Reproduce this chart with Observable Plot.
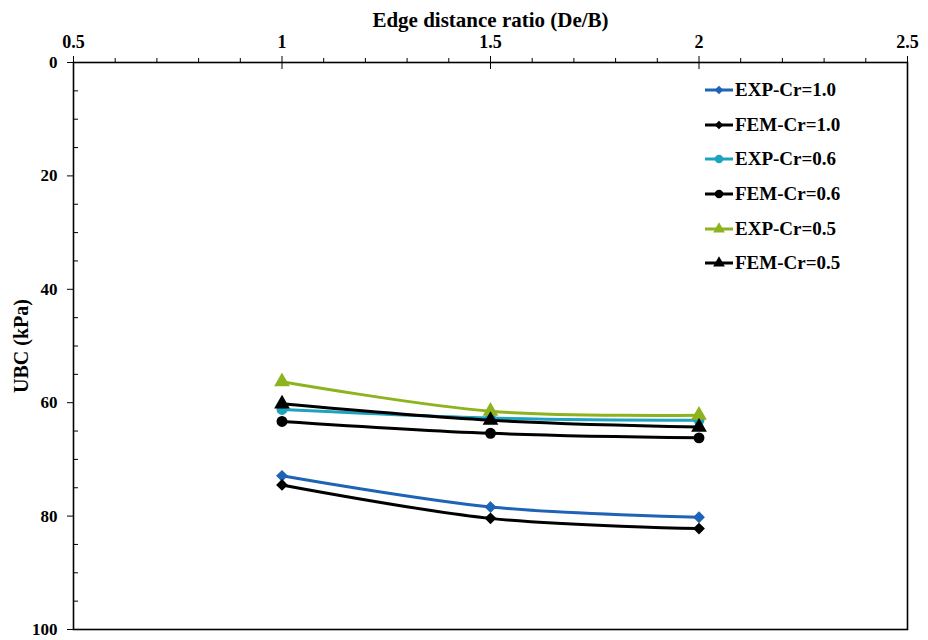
<!DOCTYPE html>
<html>
<head>
<meta charset="utf-8">
<script src="https://cdn.jsdelivr.net/npm/d3@7"></script>
<script src="https://cdn.jsdelivr.net/npm/@observablehq/plot@0.6"></script>
<style>
  html, body { margin: 0; padding: 0; background: #fff; }
  #wrap { position: relative; width: 928px; height: 640px; }
  #legend { position: absolute; left: 704px; top: 73px; font-family: "Liberation Serif", "Times New Roman", serif; font-weight: bold; font-size: 19px; color: #000; }
  .row { display: flex; align-items: center; height: 34.6px; }
  .row svg { margin-right: 1px; }
</style>
</head>
<body>
<div id="wrap"><div id="legend"></div></div>
<script>
// Data
const edgeRatio = [1, 1.5, 2];
const seriesNames = ["EXP-Cr=1.0", "FEM-Cr=1.0", "EXP-Cr=0.6", "FEM-Cr=0.6", "EXP-Cr=0.5", "FEM-Cr=0.5"];
const expCr10 = [72.9, 78.4, 80.2];
const femCr10 = [74.5, 80.4, 82.2];
const expCr06 = [61.2, 62.7, 63.1];
const femCr06 = [63.3, 65.4, 66.2];
const expCr05 = [56.3, 61.5, 62.2];
const femCr05 = [60.2, 63.1, 64.3];
const xTicks = [0.5, 1, 1.5, 2, 2.5];
const yTicks = [0, 20, 40, 60, 80, 100];

// styles
const colors = ["#1f63b6", "#000000", "#1ba3bf", "#000000", "#8db31e", "#000000"];
const symbols = ["diamond2", "diamond2", "circle", "circle", "triangle", "triangle"];
const symSize = [60, 60, 70, 70, 75, 75];
const allValues = [expCr10, femCr10, expCr06, femCr06, expCr05, femCr05];

const rows = [];
seriesNames.forEach((name, i) => {
  edgeRatio.forEach((x, j) => rows.push({series: name, idx: i, x, y: allValues[i][j]}));
});

const minorX = d3.range(5, 26).map(d => d / 10).filter(d => !xTicks.includes(d));
const minorY = d3.range(0, 101, 5).filter(d => !yTicks.includes(d));

const marks = [
  Plot.frame({stroke: "#000", strokeWidth: 1.6}),
  Plot.axisX(xTicks, {anchor: "top", label: null, tickSize: 7, tickPadding: 8, tickFormat: d => String(d), fontSize: 18, fontWeight: "bold"}),
  Plot.axisX(xTicks, {anchor: "top", label: null, tickSize: -6, tickFormat: () => ""}),
  Plot.axisX(minorX, {anchor: "top", label: null, tickSize: 5, tickFormat: () => ""}),
  Plot.axisY(yTicks, {anchor: "left", label: null, tickSize: 6, tickPadding: 10, fontSize: 17, fontWeight: "bold"}),
  Plot.axisY(minorY, {anchor: "left", label: null, tickSize: -5, tickFormat: () => ""}),
  Plot.text(["Edge distance ratio (De/B)"], {frameAnchor: "top", dy: -42, lineAnchor: "middle", textAnchor: "middle", fontSize: 21, fontWeight: "bold", fill: "#000"}),
  Plot.text(["UBC (kPa)"], {frameAnchor: "left", dx: -52, rotate: -90, textAnchor: "middle", lineAnchor: "middle", fontSize: 20, fontWeight: "bold", fill: "#000"})
];
seriesNames.forEach((name, i) => {
  const d = rows.filter(r => r.idx === i);
  marks.push(Plot.line(d, {x: "x", y: "y", stroke: colors[i], strokeWidth: 3, curve: "catmull-rom"}));
  marks.push(Plot.dot(d, {x: "x", y: "y", fill: colors[i], stroke: colors[i], symbol: symbols[i], r: Math.sqrt(symSize[i] / Math.PI)}));
});

const chart = Plot.plot({
  width: 928,
  height: 640,
  marginLeft: 73,
  marginRight: 21,
  marginTop: 62,
  marginBottom: 11,
  style: {fontFamily: "Liberation Serif, Times New Roman, serif", fontWeight: "bold", fontSize: "18px", color: "#000", background: "#fff"},
  x: {domain: [0.5, 2.5], axis: null},
  y: {domain: [0, 100], reverse: true, axis: null},
  marks
});
document.getElementById("wrap").prepend(chart);

// Legend
const legend = document.getElementById("legend");
seriesNames.forEach((name, i) => {
  const row = document.createElement("div");
  row.className = "row";
  const sw = d3.create("svg").attr("width", 30).attr("height", 14);
  sw.append("line").attr("x1", 1).attr("x2", 29).attr("y1", 7).attr("y2", 7).attr("stroke", colors[i]).attr("stroke-width", 3);
  const symMap = {diamond2: d3.symbolDiamond2, circle: d3.symbolCircle, triangle: d3.symbolTriangle};
  sw.append("path").attr("transform", "translate(15,7)").attr("d", d3.symbol(symMap[symbols[i]], symSize[i] * 0.8)()).attr("fill", colors[i]);
  row.appendChild(sw.node());
  const t = document.createElement("span");
  t.textContent = name;
  row.appendChild(t);
  legend.appendChild(row);
});
</script>
</body>
</html>
